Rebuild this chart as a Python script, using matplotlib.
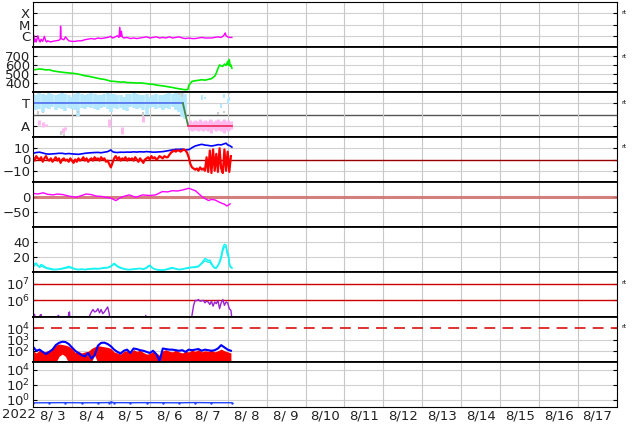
import matplotlib.pyplot as plt
import numpy as np

# hours counted from 2022-08-03 00:00 (UT)
days = ['8/ 3', '8/ 4', '8/ 5', '8/ 6', '8/ 7', '8/ 8', '8/ 9', '8/10', '8/11',
        '8/12', '8/13', '8/14', '8/15', '8/16', '8/17']

# X-ray flux (log10 W/m2)
xray_h = [0, 0.5, 1, 1.5, 2, 3, 4, 4.5, 5, 6, 7, 8, 8.5, 9, 10, 11, 12, 14, 16, 16.8, 17, 17.3,
          18, 19, 20, 22, 24, 26, 28, 30, 32, 34, 36, 38, 40, 42, 44, 46, 48, 49, 50, 52, 53,
          53.5, 54, 54.5, 55, 56, 58, 60, 62, 64, 66, 68, 70, 72, 74, 76, 78, 80, 82, 84, 86,
          88, 90, 92, 94, 96, 98, 100, 102, 104, 106, 108, 110, 112, 114, 116, 117, 118, 118.5,
          119, 120, 121, 122, 122.6]
xray_log = [-6.5, -5.95, -6.55, -6.3, -6.55, -6.0, -6.5, -6.55, -6.3, -6.5, -6.05, -6.5, -6.55,
            -6.45, -6.5, -6.55, -6.5, -6.45, -6.4, -6.3, -5.15, -6.2, -6.3, -6.35, -6.1, -6.45,
            -6.5, -6.5, -6.45, -6.45, -6.35, -6.3, -6.25, -6.3, -6.2, -6.25, -6.2, -6.15, -6.05,
            -6.2, -6.15, -6.0, -6.15, -5.25, -6.05, -5.6, -6.1, -6.2, -6.15, -6.25, -6.2, -6.25,
            -6.2, -6.15, -6.1, -6.2, -6.15, -6.1, -6.2, -6.15, -6.2, -6.1, -6.2, -6.15, -6.1,
            -6.2, -6.25, -6.2, -6.25, -6.25, -6.2, -6.15, -6.2, -6.2, -6.2, -6.15, -6.1, -6.15,
            -6.05, -5.9, -5.75, -6.0, -6.1, -6.15, -6.15, -6.15]

# solar wind speed (km/s)
vsw_h = [0, 2, 4, 6, 8, 10, 12, 14, 16, 18, 20, 22, 24, 26, 28, 30, 32, 34, 36, 38, 40, 42, 44,
         46, 48, 50, 52, 54, 56, 58, 60, 62, 64, 66, 68, 70, 72, 74, 76, 78, 80, 82, 84, 86, 88,
         90, 92, 94, 95.5, 96, 97, 98, 100, 102, 104, 106, 108, 110, 111, 112, 113, 114, 115,
         116, 117, 118, 119, 120, 120.5, 121, 121.5, 122, 122.6]
vsw = [546, 550, 556, 552, 545, 548, 536, 530, 524, 520, 515, 512, 508, 505, 498, 490, 480, 476,
       468, 460, 452, 445, 440, 430, 420, 418, 414, 410, 412, 405, 404, 402, 400, 401, 398, 393,
       388, 385, 378, 372, 368, 362, 356, 350, 342, 336, 330, 325, 328, 372, 395, 418, 425, 430,
       436, 432, 440, 448, 462, 475, 510, 560, 600, 590, 585, 610, 595, 640, 600, 660, 590, 600,
       565]

# IMF sector (T=3, A=1): light blue spread, pink spread, grey points
band_h = list(range(0, 96, 2))
band_hi = [3.8, 3.7, 3.9, 3.85, 3.75, 3.9, 3.8, 3.7, 3.85, 3.9, 3.8, 3.75, 3.6, 3.85, 3.9, 3.8,
           3.7, 3.8, 3.9, 3.85, 3.75, 3.7, 3.8, 3.9, 3.85, 3.8, 3.7, 3.75, 3.6, 3.8, 3.85, 3.9,
           3.8, 3.7, 3.75, 3.8, 3.6, 3.7, 3.8, 3.75, 3.7, 3.8, 3.9, 3.85, 3.9, 3.95, 3.9, 3.8]
band_lo = [2.6, 2.4, 2.5, 2.2, 2.6, 2.5, 2.7, 2.4, 2.6, 2.5, 2.3, 2.6, 2.5, 2.4, 1.9, 2.6, 2.5,
           2.7, 2.6, 2.5, 2.4, 2.6, 2.7, 2.5, 2.2, 2.6, 2.5, 2.6, 2.4, 2.3, 2.7, 2.6, 2.5, 2.6,
           2.4, 2.0, 2.6, 2.7, 2.5, 2.6, 2.4, 2.6, 2.5, 2.7, 2.4, 2.2, 1.8, 1.6]
late_h = [104, 106, 116, 118, 120, 121]
late_lo = [3.3, 3.4, 2.6, 3.5, 2.9, 3.2]
late_hi = [3.7, 3.6, 2.9, 3.8, 3.4, 3.6]
pink_h = [4, 6, 8, 18.5, 20, 47, 55, 68, 96, 97, 98, 99, 100, 101, 102, 103, 104, 105, 106,
          107, 108, 109, 110, 111, 112, 113, 114, 115, 116, 117, 118, 119, 120, 121, 122]
pink_lo = [1.1, 0.9, 1.0, 0.4, 0.6, 0.9, 0.3, 1.3, 0.6, 0.7, 0.5, 0.8, 0.6, 0.7, 0.5, 0.6, 0.8,
           0.5, 0.6, 0.7, 0.5, 0.6, 0.4, 0.7, 0.6, 0.5, 0.6, 0.7, 0.5, 0.6, 0.4, 0.6, 0.5, 0.6,
           0.7]
pink_hi = [1.5, 1.3, 1.2, 0.8, 0.9, 1.6, 0.9, 1.9, 1.4, 1.5, 1.3, 1.4, 1.5, 1.3, 1.4, 1.6, 1.3,
           1.4, 1.5, 1.3, 1.4, 1.6, 1.5, 1.3, 1.4, 1.5, 1.6, 1.4, 1.3, 1.5, 1.6, 1.4, 1.5, 1.3,
           1.4]
grey_h = [3, 6, 17, 19, 28, 68, 90, 92, 114, 118, 121]
grey_lo = [2.0, 2.1, 0.2, 0.1, 2.1, 1.8, 3.7, 3.6, 2.0, 2.1, 3.8]
grey_hi = [2.3, 2.2, 0.5, 0.3, 2.3, 2.2, 3.95, 3.9, 2.2, 2.3, 3.95]
sector_h = [0, 92.4, 95.6, 122.6]
sector = [3, 3, 1, 1]

# IMF Bt and Bz (nT)
bt_h = [0, 2, 4, 6, 8, 10, 12, 14, 16, 18, 20, 22, 24, 26, 28, 30, 32, 34, 36, 38, 40, 42, 44,
        46, 48, 49, 50, 52, 54, 56, 58, 60, 62, 64, 66, 68, 70, 72, 74, 76, 78, 80, 82, 84, 86,
        88, 90, 92, 94, 96, 97, 98, 100, 102, 104, 106, 108, 110, 112, 114, 116, 118, 119, 120,
        121, 122.6]
bt = [5.5, 6.2, 6.5, 5.8, 5.0, 4.8, 5.0, 5.2, 5.5, 5.5, 5.0, 5.3, 5.0, 4.8, 4.6, 5.0, 5.5, 5.8,
      6.0, 6.2, 6.3, 6.0, 6.5, 7.0, 8.5, 7.0, 6.5, 6.2, 6.5, 6.4, 6.6, 6.5, 6.8, 6.6, 6.9, 6.7,
      7.0, 6.8, 6.5, 6.6, 6.8, 7.0, 7.5, 8.0, 8.5, 9.0, 9.0, 9.2, 8.5, 8.8, 9.5, 10.5, 12.0, 12.8,
      13.5, 12.8, 12.5, 12.0, 12.5, 13.2, 13.0, 14.0, 14.5, 13.0, 12.5, 11.0]
bz = [2, -1, 3, 1, 0, 2, -2, 1, 3, 0,
      -1, 1, -2, 0, 2, -1, 1, -3, 0, 1,
      -1, 0, -2, 1, -1, -3, 0, -2, 1, -1,
      0, 2, -1, 1, -2, 0, 1, -1, 2, 0,
      1, -1, 2, 0, 1, -2, -1, -4, -7, -3,
      1, 3, 0, 2, -1, 1, 0, 2, -1, 1,
      0, 1, -1, 2, 0, -2, 1, -1, -3, 0,
      1, 2, 0, 3, 1, 2, 0, 1, 3, 2,
      1, 3, 2, 2, 4, 6, 7, 8, 7, 8,
      8, 7, 8, 9, 8, 6, 2, -4, -7, -8,
      -9, -8, -10, -7, -9, -8, -10, 2, -11, 8,
      -12, 9, -10, 5, -11, 10, -8, -12, 9, -10, 7, -11, 3]

# Dst (nT)
dst_h = [0, 3, 6.3, 9, 12.4, 15, 18.5, 22, 26.7, 30, 32.8, 36, 38.9, 42, 45, 48, 51.1, 53, 55.2,
         59.3, 63.4, 67.5, 72, 75.6, 79.7, 83, 85.8, 89, 91.9, 96, 100.1, 104.2, 106, 108.3,
         110, 112.3, 114, 116.4, 118, 119.5, 121.5]
dst = [12, 10, 14, 9, 7, 10, 8, 3, -1, 5, 10, 8, 3, 2, -1, -4, -12, -5, 1, 7, -1, 7, 5, 7, 18,
       17, 21, 20, 23, 29, 21, 1, -5, -12, -8, -10, -15, -21, -24, -30, -23]

# two density traces (/cc)
dens_h = [0, 1, 2, 3, 4, 5, 6, 8, 10, 12, 14, 16, 18, 20, 22, 24, 26, 28, 30, 32, 34, 36, 38,
          40, 42, 44, 46, 48, 49, 50, 51, 52, 54, 56, 58, 60, 62, 64, 66, 68, 70, 71, 72, 73,
          74, 76, 78, 80, 82, 84, 86, 88, 90, 92, 94, 96, 98, 100, 102, 103, 104, 105, 106, 107,
          108, 109, 110, 111, 112, 113, 114, 115, 116, 117, 118, 119, 119.5, 120, 120.5, 121,
          121.5, 122, 122.6]
dens_a = [9, 11, 12, 8, 7, 10, 9, 6, 5, 4, 3.5, 4, 5, 6, 7.5, 6, 4, 3.5, 4, 3.5, 4, 4.5, 5, 4.5,
          5, 6, 6, 8, 10, 11.5, 10, 8, 6, 4.5, 3.5, 3.5, 4, 4.5, 5, 4, 6, 8, 9, 7, 5, 3.5, 3,
          2.7, 3.5, 5, 6, 4.5, 3.5, 4, 5, 6, 6.5, 7, 8, 10, 12, 15, 18, 17, 15, 16, 12, 8, 6, 6,
          9, 14, 22, 32, 37, 36, 30, 26, 23, 14, 8, 7, 6]
dens_b = [7, 9, 10, 9, 6, 8, 7, 5, 4, 3, 3, 3.5, 4, 5, 6, 5, 3.5, 3, 3.5, 3, 3.5, 4, 4, 4, 4.5,
          5, 5.5, 7, 9, 10, 9, 7, 5, 4, 3, 3, 3.5, 4, 4.5, 3.5, 5, 7, 8, 6, 4.5, 3, 2.5, 2.5, 3,
          4, 5, 4, 3, 3.5, 4.5, 5, 6, 6, 7, 9, 11, 13, 15, 14, 13, 13, 10, 7, 5, 5, 8, 12, 18,
          28, 34, 33, 26, 22, 20, 11, 7, 6, 5]

# electron flux (log10), below 1e5 = off scale
elec_h = [0, 1, 2, 4, 4.3, 5, 5.3, 15, 15.5, 16, 16.5, 21.5, 22, 22.5, 23, 34.5, 35, 36, 37, 38,
          39, 40, 41, 42, 43, 44, 45, 46, 47, 47.5, 69, 69.5, 70, 97.5, 98, 99, 100, 101, 102,
          103, 104, 105, 106, 107, 108, 109, 110, 111, 112, 113, 114, 115, 116, 117, 118, 119,
          120, 121, 122, 122.5]
elec_log = [5.18, 5.15, 4.5, 4.5, 5.1, 5.15, 4.5, 4.5, 5.1, 5.05, 4.5, 4.5, 5.25, 5.3, 4.5,
            4.5, 5.1, 5.3, 5.45, 5.3, 5.35, 5.5, 5.25, 5.45, 5.2, 5.3, 5.45, 5.6, 5.2, 4.5,
            4.5, 5.1, 4.5, 4.5, 5.1, 5.7, 6.0, 5.98, 6.05, 5.95, 5.97, 6.0, 5.85, 5.95, 5.9,
            5.75, 5.95, 5.65, 5.9, 5.8, 6.0, 5.5, 5.85, 6.05, 5.7, 5.9, 5.85, 5.5, 5.4, 5.0]

# proton flux (log10): blue trace and red spread
prot_h = list(range(0, 124, 2))
prot_blue = [2.36, 2.0, 2.1, 1.9, 1.7, 1.9, 2.1, 2.5, 2.7, 2.8, 2.78, 2.6, 2.3, 2.0, 1.8, 1.6,
             1.5, 1.8, 1.3, 1.6, 2.45, 2.7, 2.72, 2.6, 2.4, 2.1, 1.9, 1.75, 2.0, 2.1, 1.8, 2.2,
             2.15, 2.05, 2.0, 1.9, 1.8, 2.0, 1.7, 1.1, 2.2, 2.15, 2.1, 2.1, 2.05, 2.0, 2.05,
             1.9, 2.1, 2.05, 2.1, 2.15, 2.0, 2.1, 2.05, 2.0, 2.05, 2.2, 2.5, 2.3, 2.1, 2.0]
prot_red_hi = [2.0, 1.8, 2.05, 1.85, 1.95, 2.05, 2.3, 2.5, 2.6, 2.55, 2.5, 2.4, 2.2, 1.85, 1.95,
               1.8, 1.9, 1.95, 2.2, 2.35, 2.45, 2.4, 2.35, 2.3, 2.2, 1.9, 1.8, 1.7, 1.95, 2.0,
               1.8, 2.1, 1.95, 2.05, 1.85, 1.7, 1.75, 1.95, 1.8, 1.6, 2.0, 2.1, 1.95, 1.9, 2.05,
               1.9, 1.8, 1.95, 1.9, 2.05, 1.95, 2.1, 1.9, 2.0, 1.95, 2.05, 1.9, 2.0, 2.15, 2.0,
               1.9, 1.8]
prot_red_lo = [0.9, 0.9, 0.9, 0.9, 0.9, 0.9, 0.9, 0.9, 1.5, 1.7, 1.5, 0.9, 0.9, 0.9, 0.9, 0.9,
               0.9, 0.9, 1.0, 1.6, 0.9, 0.9, 0.9, 0.9, 0.9, 0.9, 0.9, 0.9, 0.9, 0.9, 0.9, 0.9,
               0.9, 0.9, 0.9, 0.9, 0.9, 0.9, 0.9, 1.2, 0.9, 0.9, 0.9, 0.9, 0.9, 0.9, 0.9, 0.9,
               0.9, 0.9, 0.9, 0.9, 0.9, 0.9, 0.9, 0.9, 0.9, 0.9, 0.9, 0.9, 0.9, 0.9]

# bottom panel (log10)
low_h = [0, 10, 20, 30, 40, 47, 48, 50, 60, 70, 80, 90, 100, 110, 122.6]
low_log = [-0.45, -0.43, -0.42, -0.44, -0.43, -0.41, -0.35, -0.42, -0.43, -0.42, -0.43,
           -0.44, -0.41, -0.43, -0.43]

W, H = 634, 424
fig = plt.figure(figsize=(W / 100, H / 100), dpi=100)
plt.rcParams['font.family'] = 'DejaVu Sans'
fs = 9.5
x0, x1 = 33, 617
tops = [2, 47, 92, 137, 182, 227, 272, 317, 362]
axs = []
for i, t in enumerate(tops):
    ax = fig.add_axes([x0 / W, 1 - (t + 45) / H, (x1 - x0) / W, 45 / H])
    ax.set_xlim(0, 360)
    ax.set_xticks(np.arange(0, 361, 24))
    ax.set_xticklabels([])
    ax.grid(axis='x', color='#c8c8c8', lw=0.8)
    ax.tick_params(axis='x', length=0)
    ax.tick_params(axis='y', direction='in', length=3, right=True, labelsize=fs, pad=2,
                   labelcolor='#222222')
    for s in ['left', 'right']:
        ax.spines[s].set_linewidth(0.8)
    ax.spines['top'].set_linewidth(1.3 if i > 0 else 0.8)
    ax.spines['bottom'].set_linewidth(1.3 if i < 8 else 0.8)
    ax.set_axisbelow(True)
    axs.append(ax)

grid_c = '#d0d0d0'

# 1 X-ray
ax = axs[0]
ax.set_yscale('log')
ax.set_ylim(1e-7, 1e-3)
ax.set_yticks([1e-6, 1e-5, 1e-4])
ax.set_yticklabels(['C', 'M', 'X'])
ax.minorticks_off()
for v in [1e-6, 1e-5, 1e-4]:
    ax.axhline(v, color=grid_c, lw=0.8, zorder=0)
ax.plot(xray_h, 10 ** np.array(xray_log), color='#ff00ff', lw=1)

# 2 speed
ax = axs[1]
ax.set_ylim(300, 800)
ax.set_yticks([400, 500, 600, 700])
for v in [400, 500, 600, 700]:
    ax.axhline(v, color=grid_c, lw=0.8, zorder=0)
ax.plot(vsw_h, vsw, color='#00ee00', lw=1.2)

# 3 sector
ax = axs[2]
ax.set_ylim(0, 4)
ax.set_yticks([1, 3])
ax.set_yticklabels(['A', 'T'])
ax.axhline(1, color=grid_c, lw=0.8, zorder=0)
ax.axhline(3, color=grid_c, lw=0.8, zorder=0)
ax.axhline(2, color='#555555', lw=1, zorder=0)
ax.vlines(band_h, band_lo, band_hi, color='#b4e8ff', lw=2.6)
ax.vlines(late_h, late_lo, late_hi, color='#b4e8ff', lw=1.5)
ax.vlines(pink_h, pink_lo, pink_hi, color='#ffbaf0', lw=2.2)
ax.vlines(grey_h, grey_lo, grey_hi, color='#cccccc', lw=1.5)
ax.plot(sector_h[:2], sector[:2], color='#5577ee', lw=1.3)
ax.plot(sector_h[1:3], sector[1:3], color='#448844', lw=1.3)
ax.plot(sector_h[2:], sector[2:], color='#ee3366', lw=1.3)

# 4 Bt / Bz
ax = axs[3]
ax.set_ylim(-20, 20)
ax.set_yticks([-10, 0, 10])
ax.set_yticklabels(['\u221210', '0', '10'])
for v in [-10, 10]:
    ax.axhline(v, color=grid_c, lw=0.8, zorder=0)
ax.axhline(0, color='#990000', lw=1)
ax.plot(bt_h, bt, color='#0000ff', lw=1.2)
ax.plot(np.arange(len(bz)), bz, color='#ff0000', lw=1.6)

# 5 Dst
ax = axs[4]
ax.set_ylim(-100, 50)
ax.set_yticks([-50, 0])
ax.set_yticklabels(['\u221250', '0'])
ax.axhline(-50, color=grid_c, lw=0.8, zorder=0)
ax.axhline(0, color='#d07070', lw=2.2, alpha=0.9)
ax.plot(dst_h, dst, color='#ff00ff', lw=1)

# 6 density
ax = axs[5]
ax.set_ylim(0, 60)
ax.set_yticks([20, 40])
for v in [20, 40]:
    ax.axhline(v, color=grid_c, lw=0.8, zorder=0)
ax.plot(dens_h, dens_a, color='#00ffff', lw=1)
ax.plot(dens_h, dens_b, color='#22eeee', lw=1)

# 7 electrons
ax = axs[6]
ax.set_yscale('log')
ax.set_ylim(1e5, 5e7)
ax.set_yticks([1e6, 1e7])
ax.set_yticklabels(['$10^{6}$', '$10^{7}$'])
ax.minorticks_off()
for v in [1e6, 1e7]:
    ax.axhline(v, color='#cc0000', lw=1)
ax.plot(elec_h, 10 ** np.array(elec_log), color='#9922cc', lw=1)

# 8 protons
ax = axs[7]
ax.set_yscale('log')
ax.set_ylim(1e1, 1e5)
ax.set_yticks([1e2, 1e3, 1e4])
ax.set_yticklabels(['$10^{2}$', '$10^{3}$', '$10^{4}$'])
ax.minorticks_off()
for v in [1e2, 1e3]:
    ax.axhline(v, color=grid_c, lw=0.8, zorder=0)
ax.axhline(1e4, color='#dd2222', lw=1.3, dashes=(6, 4))
ax.plot(prot_h, 10 ** np.array(prot_blue), color='#0000ff', lw=1.5)
ax.fill_between(prot_h, 10 ** np.array(prot_red_lo), 10 ** np.array(prot_red_hi),
                color='#ff0000', lw=0)

# 9 bottom
ax = axs[8]
ax.set_yscale('log')
ax.set_ylim(1e-1, 1e5)
ax.set_yticks([1e0, 1e2, 1e4])
ax.set_yticklabels(['$10^{0}$', '$10^{2}$', '$10^{4}$'])
ax.minorticks_off()
for v in [1e0, 1e2, 1e4]:
    ax.axhline(v, color=grid_c, lw=0.8, zorder=0)
ax.plot(low_h, 10 ** np.array(low_log), color='#2244ff', lw=1, marker='.', ms=1.5)

ax.set_xticks(np.arange(12, 360, 24), minor=True)
ax.set_xticklabels(days, minor=True, fontsize=fs, color='#222222')
ax.tick_params(axis='x', which='minor', length=0, pad=1.5)
fig.text(2 / W, 1 - 415 / H, '2022', fontsize=fs, va='center', color='#222222')

for i in [0, 1, 2, 3, 6, 7]:
    fig.text(621 / W, 1 - (tops[i] + 10) / H, 'rt', fontsize=4.5, va='center')

fig.savefig('out.png', dpi=100)
